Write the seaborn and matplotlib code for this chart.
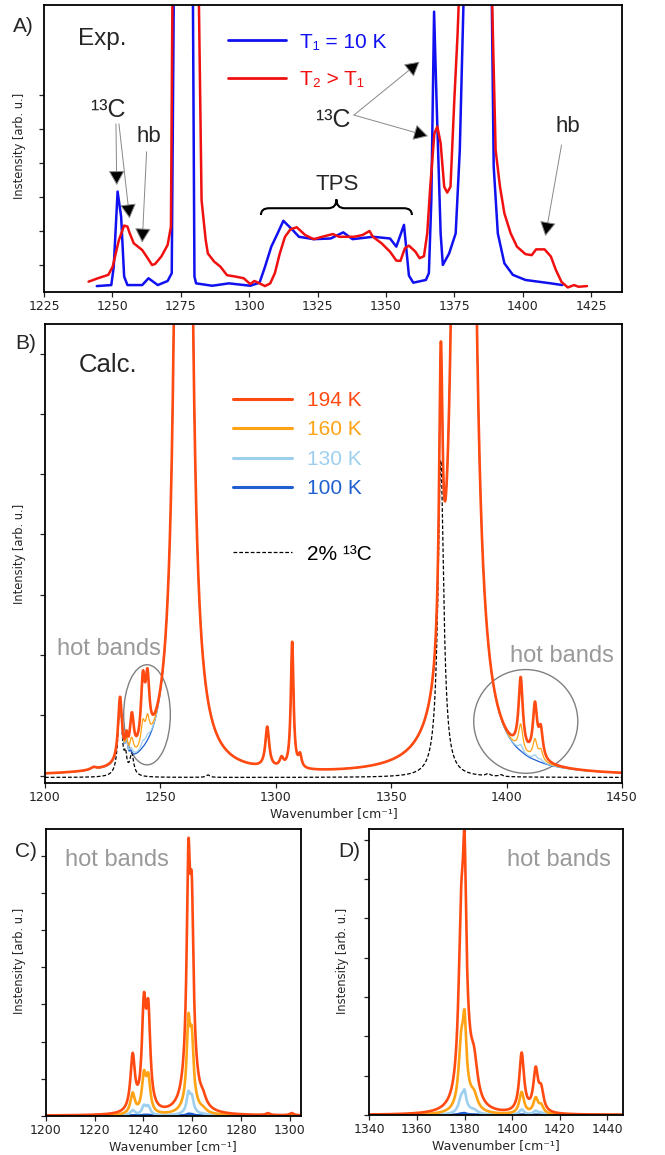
import numpy as np
import seaborn as sns
import matplotlib.pyplot as plt
from matplotlib.patches import Ellipse, PathPatch
from matplotlib.path import Path

# ---------- A) experimental spectra (read off the picture) ----------
exp_t1_x = [1244.3, 1249.6, 1250.5, 1251.9, 1253.2, 1254.3, 1255.5, 1260.9, 1263.2, 1266.6,
            1270.2, 1271.7, 1272.5, 1279.4, 1280.0, 1280.6, 1286.5, 1292.6, 1300.4, 1303.8,
            1305.8, 1308.1, 1310.4, 1312.5, 1315.9, 1318.2, 1323.6, 1329.8, 1334.4, 1337.8,
            1345.3, 1351.5, 1353.8, 1356.6, 1358.4, 1360.0, 1364.6, 1365.7, 1366.6, 1367.6,
            1368.5, 1370.0, 1370.8, 1373.1, 1375.5, 1377.0, 1378.6, 1388.6, 1389.4, 1390.9,
            1393.3, 1396.4, 1401.0, 1410.3, 1414.5]
exp_t1_y = [0.38, 0.41, 0.95, 3.16, 2.42, 0.66, 0.41, 0.41, 0.61, 0.41,
            0.53, 0.76, 9.5, 9.5, 0.66, 0.46, 0.39, 0.46, 0.39, 0.48,
            0.95, 1.54, 1.93, 2.30, 2.03, 1.83, 1.76, 1.78, 1.96, 1.76,
            1.83, 1.78, 1.54, 2.18, 0.69, 0.48, 0.56, 0.76, 2.91, 8.45,
            5.85, 1.93, 1.00, 1.34, 1.93, 4.38, 9.5, 9.5, 3.89, 1.93,
            1.05, 0.71, 0.56, 0.46, 0.41]
exp_t2_x = [1241.3, 1244.7, 1248.5, 1250.1, 1252.4, 1254.3, 1255.5, 1256.3, 1257.8, 1260.9,
            1262.5, 1264.5, 1265.6, 1267.9, 1270.2, 1271.4, 1272.0, 1281.5, 1282.6, 1284.1,
            1284.9, 1287.2, 1289.5, 1291.9, 1295.0, 1298.0, 1300.4, 1301.9, 1303.8, 1305.8,
            1307.7, 1309.4, 1311.2, 1313.1, 1315.1, 1317.4, 1320.5, 1323.6, 1326.7, 1330.6,
            1332.9, 1338.3, 1341.4, 1344.0, 1345.2, 1348.4, 1351.5, 1353.8, 1355.3, 1356.9,
            1358.4, 1360.8, 1362.3, 1363.9, 1365.1, 1366.2, 1367.7, 1368.8, 1370.0, 1371.3,
            1372.4, 1373.6, 1375.0, 1376.2, 1377.0, 1388.6, 1390.1, 1391.7, 1393.3, 1395.6,
            1397.9, 1401.0, 1403.3, 1404.9, 1408.0, 1410.3, 1412.1, 1414.2, 1416.5, 1418.8,
            1420.4, 1423.5]
exp_t2_y = [0.51, 0.61, 0.71, 0.95, 1.74, 2.16, 2.13, 1.94, 1.64, 1.44,
            1.25, 1.00, 1.03, 1.25, 1.59, 2.13, 9.5, 9.5, 2.91, 1.74,
            1.34, 1.10, 0.95, 0.70, 0.66, 0.61, 0.44, 0.53, 0.46, 0.38,
            0.46, 0.76, 1.34, 1.83, 2.05, 2.11, 1.88, 1.76, 1.83, 1.91,
            1.83, 1.83, 1.88, 2.00, 1.83, 1.64, 1.39, 1.13, 1.12, 1.49,
            1.57, 1.39, 1.20, 1.26, 1.93, 3.30, 4.87, 5.07, 4.58, 3.30,
            3.13, 3.30, 5.85, 7.81, 9.5, 9.5, 4.38, 3.30, 2.52, 1.93,
            1.54, 1.32, 1.29, 1.46, 1.46, 1.25, 0.86, 0.50, 0.34, 0.41,
            0.36, 0.38]

# ---------- B) calculated line lists: position, peak height, half width ----------
fund_pos = [1221.0, 1232.5, 1235.3, 1237.2, 1260.0, 1296.3, 1302.5, 1307.1, 1310.5, 1371.5, 1381.5]
fund_amp = [0.04, 1.07, 0.27, 0.08, 140.0, 0.67, 0.15, 2.10, 0.20, 4.77, 245.0]
fund_hwhm = [1.5, 1.0, 0.6, 0.6, 1.0, 1.0, 1.0, 0.7, 0.8, 0.9, 1.0]

hot_pos = [1237.7, 1242.4, 1244.4, 1406.1, 1412.3, 1414.8]
hot_amp = [0.60, 1.05, 0.97, 1.20, 0.86, 0.47]
hot_hwhm = [1.0, 1.0, 1.0, 1.1, 1.1, 1.1]

iso_pos = [1232.5, 1234.9, 1237.6, 1270.6, 1371.5, 1392.0, 1397.5]
iso_amp = [1.26, 0.25, 0.35, 0.04, 5.26, 0.04, 0.03]
iso_hwhm = [1.0, 0.6, 1.0, 1.0, 1.5, 1.0, 1.0]

temps = ['194 K', '160 K', '130 K', '100 K']
hot_scale = [1.0, 0.37, 0.09, 0.007]
colors = ['#FF4A12', '#FFA214', '#9DCFEF', '#1F5FD0']

# ---------- C) / D) hot band line lists ----------
c_pos = [1235.6, 1240.2, 1242.0, 1258.4, 1259.2, 1259.8, 1264.4, 1291.0, 1300.7]
c_amp = [1.49, 2.62, 2.42, 5.04, 1.60, 3.71, 0.20, 0.05, 0.06]
c_hwhm = [1.1, 1.0, 1.0, 0.8, 2.5, 0.8, 1.5, 1.0, 1.0]

d_pos = [1378.6, 1380.0, 1380.5, 1384.0, 1404.0, 1409.9, 1412.2]
d_amp = [3.87, 3.92, 1.40, 0.90, 1.50, 1.04, 0.51]
d_hwhm = [1.3, 0.8, 2.5, 1.8, 1.2, 1.2, 1.2]


def lorentz(x, pos, amp, hwhm):
    x = np.asarray(x)[:, None]
    p, a, g = np.asarray(pos), np.asarray(amp), np.asarray(hwhm)
    return (a * g**2 / ((x - p)**2 + g**2)).sum(axis=1)


sns.set_theme(style='ticks', rc={'axes.edgecolor': 'black', 'axes.linewidth': 1.3,
                                 'xtick.color': '#222222', 'ytick.color': '#222222'})
plt.rcParams['font.family'] = ['Liberation Sans', 'DejaVu Sans']

fig = plt.figure(figsize=(6.65, 11.55), dpi=100)
W, H = 665, 1155
axA = fig.add_axes([44 / W, 1 - 292 / H, 578 / W, 287 / H])
axB = fig.add_axes([45 / W, 1 - 783 / H, 577 / W, 459 / H])
axC = fig.add_axes([45.7 / W, 1 - 1115.7 / H, 255.3 / W, 286.7 / H])
axD = fig.add_axes([369.3 / W, 1 - 1115 / H, 254 / W, 286 / H])


def style_axis(ax, ylabel, lab_x, lab_y, xlabel=None):
    ax.tick_params(labelsize=9, labelfontfamily='DejaVu Sans', length=3.5, width=0.9, pad=2.5)
    ax.tick_params(axis='y', labelleft=False)
    ax.set_ylabel(ylabel, fontsize=8.3, family='DejaVu Sans')
    ax.yaxis.set_label_coords(lab_x, lab_y)
    if xlabel:
        ax.set_xlabel(xlabel, fontsize=9, family='DejaVu Sans', labelpad=2)


def arrow(ax, start, tip):
    ax.annotate('', xy=tip, xytext=start,
                arrowprops=dict(arrowstyle='-|>,head_length=0.75,head_width=0.42',
                                ec='#888888', fc='black', lw=0.7, shrinkA=0, shrinkB=0))


# ---------- panel A ----------
sns.lineplot(x=exp_t1_x, y=exp_t1_y, ax=axA, color='#1010F0', linewidth=1.8, estimator=None)
sns.lineplot(x=exp_t2_x, y=exp_t2_y, ax=axA, color='#F01010', linewidth=1.8, estimator=None)
lA1, lA2 = axA.lines[0], axA.lines[1]
axA.set_xlim(1225, 1436.3)
axA.set_ylim(0.206, 8.647)
axA.set_xticks(range(1225, 1426, 25))
axA.set_yticks([1, 2, 3, 4, 5, 6])
style_axis(axA, 'Instensity [arb. u.]', -0.031, 0.51)
legA = axA.legend(handles=[lA1, lA2], labels=['T₁ = 10 K', 'T₂ > T₁'], loc='upper left',
                  bbox_to_anchor=(0.319, 0.904), frameon=False, borderpad=0, borderaxespad=0,
                  handlelength=2.75, handletextpad=0.7, labelspacing=0.89, fontsize=15,
                  labelcolor='linecolor')
for ln in legA.get_lines():
    ln.set_linewidth(2.0)

axA.text(1237.4, 7.47, 'Exp.', fontsize=17.5, va='baseline')
axA.text(1248.5, 5.34, '¹³C', fontsize=18, ha='center', va='baseline')
axA.text(1263.2, 4.77, 'hb', fontsize=16, ha='center', va='center')
axA.text(1330.6, 5.07, '¹³C', fontsize=18, ha='center', va='baseline')
axA.text(1416.5, 5.07, 'hb', fontsize=16, ha='center', va='center')
axA.text(1332.1, 3.37, 'TPS', fontsize=16, ha='center', va='center')
arrow(axA, (1251.3, 5.15), (1251.6, 3.35))
arrow(axA, (1252.4, 5.15), (1256.3, 2.37))
arrow(axA, (1262.5, 4.33), (1260.9, 1.66))
arrow(axA, (1338.3, 5.41), (1362.3, 6.98))
arrow(axA, (1338.3, 5.41), (1365.4, 4.79))
arrow(axA, (1414.2, 4.53), (1408.3, 1.85))

# curly brace over TPS
xl, xr, yb, yh, yt, r = 1304.3, 1359.5, 2.47, 2.67, 2.93, 3.0
xm = (xl + xr) / 2
verts = [(xl, yb), (xl, yh), (xl + r, yh), (xm - r, yh), (xm, yh), (xm, yt),
         (xm, yh), (xm + r, yh), (xr - r, yh), (xr, yh), (xr, yb)]
codes = [Path.MOVETO, Path.CURVE3, Path.CURVE3, Path.LINETO, Path.CURVE3, Path.CURVE3,
         Path.CURVE3, Path.CURVE3, Path.LINETO, Path.CURVE3, Path.CURVE3]
axA.add_patch(PathPatch(Path(verts, codes), fill=False, lw=1.5, ec='black'))

# ---------- panel B ----------
xb = np.linspace(1200, 1450, 3001)
base = lorentz(xb, fund_pos, fund_amp, fund_hwhm) - 0.01
hot = lorentz(xb, hot_pos, hot_amp, hot_hwhm)
iso = lorentz(xb, iso_pos, iso_amp, iso_hwhm) - 0.03

sns.lineplot(x=xb, y=iso, ax=axB, color='black', linewidth=0.9, estimator=None)
ldash = axB.lines[-1]
ldash.set_linestyle((0, (3, 1.6)))
linesB = {}
for t, s, c in list(zip(temps, hot_scale, colors))[::-1]:
    sns.lineplot(x=xb, y=base + s * hot, ax=axB, color=c,
                 linewidth=1.9 if t == '194 K' else 0.9, estimator=None)
    linesB[t] = axB.lines[-1]
axB.set_xlim(1200, 1450)
axB.set_ylim(-0.121, 7.49)
axB.set_yticks(range(0, 8))
style_axis(axB, 'Intensity [arb. u.]', -0.033, 0.5, 'Wavenumber [cm⁻¹]')

legB = axB.legend(handles=[linesB[t] for t in temps], labels=temps, loc='upper left',
                  bbox_to_anchor=(0.325, 0.854), frameon=False, borderpad=0, borderaxespad=0,
                  handlelength=2.84, handletextpad=0.72, labelspacing=0.5, fontsize=15,
                  labelcolor='linecolor')
for ln in legB.get_lines():
    ln.set_linewidth(2.2)
axB.add_artist(legB)
legB2 = axB.legend(handles=[ldash], labels=['2% ¹³C'], loc='upper left',
                   bbox_to_anchor=(0.325, 0.519), frameon=False, borderpad=0, borderaxespad=0,
                   handlelength=2.84, handletextpad=0.72, fontsize=15, labelcolor='black')

axB.text(1214.6, 6.70, 'Calc.', fontsize=18.5, va='baseline')
axB.text(1205.3, 2.0, 'hot bands', fontsize=17, color='#999999', va='baseline')
axB.text(1401.4, 1.88, 'hot bands', fontsize=17, color='#999999', va='baseline')
axB.add_patch(Ellipse((1244.2, 1.01), 20.2, 1.66, fill=False, ec='#808080', lw=1.0))
axB.add_patch(Ellipse((1408.3, 0.90), 45.1, 1.72, fill=False, ec='#808080', lw=1.0))

# ---------- panels C and D ----------
for ax, lo, hi, pos, amp, hw in [(axC, 1200, 1304.5, c_pos, c_amp, c_hwhm),
                                 (axD, 1340, 1446.7, d_pos, d_amp, d_hwhm)]:
    xs = np.linspace(lo, hi, 2001)
    hb = lorentz(xs, pos, amp, hw)
    for t, s, c in list(zip(temps, hot_scale, colors))[::-1]:
        sns.lineplot(x=xs, y=s * hb, ax=ax, color=c, linewidth=1.9, estimator=None)
    ax.set_xlim(lo, hi)
    ax.set_yticks(range(0, 8))
    style_axis(ax, 'Instensity [arb. u.]', -0.078, 0.54, 'Wavenumber [cm⁻¹]')

axC.set_ylim(0, 7.73)
axC.set_xticks(range(1200, 1301, 20))
axD.set_ylim(0, 7.27)
axD.set_xticks(range(1340, 1441, 20))
axC.text(1207.9, 6.73, 'hot bands', fontsize=17, color='#999999', va='baseline')
axD.text(1397.7, 6.34, 'hot bands', fontsize=17, color='#999999', va='baseline')

for lab, px, py in [('A)', 13, 32), ('B)', 15, 349), ('C)', 15, 857), ('D)', 338, 857)]:
    fig.text(px / W, 1 - py / H, lab, fontsize=15, va='baseline')

fig.savefig('out.png', dpi=100)
